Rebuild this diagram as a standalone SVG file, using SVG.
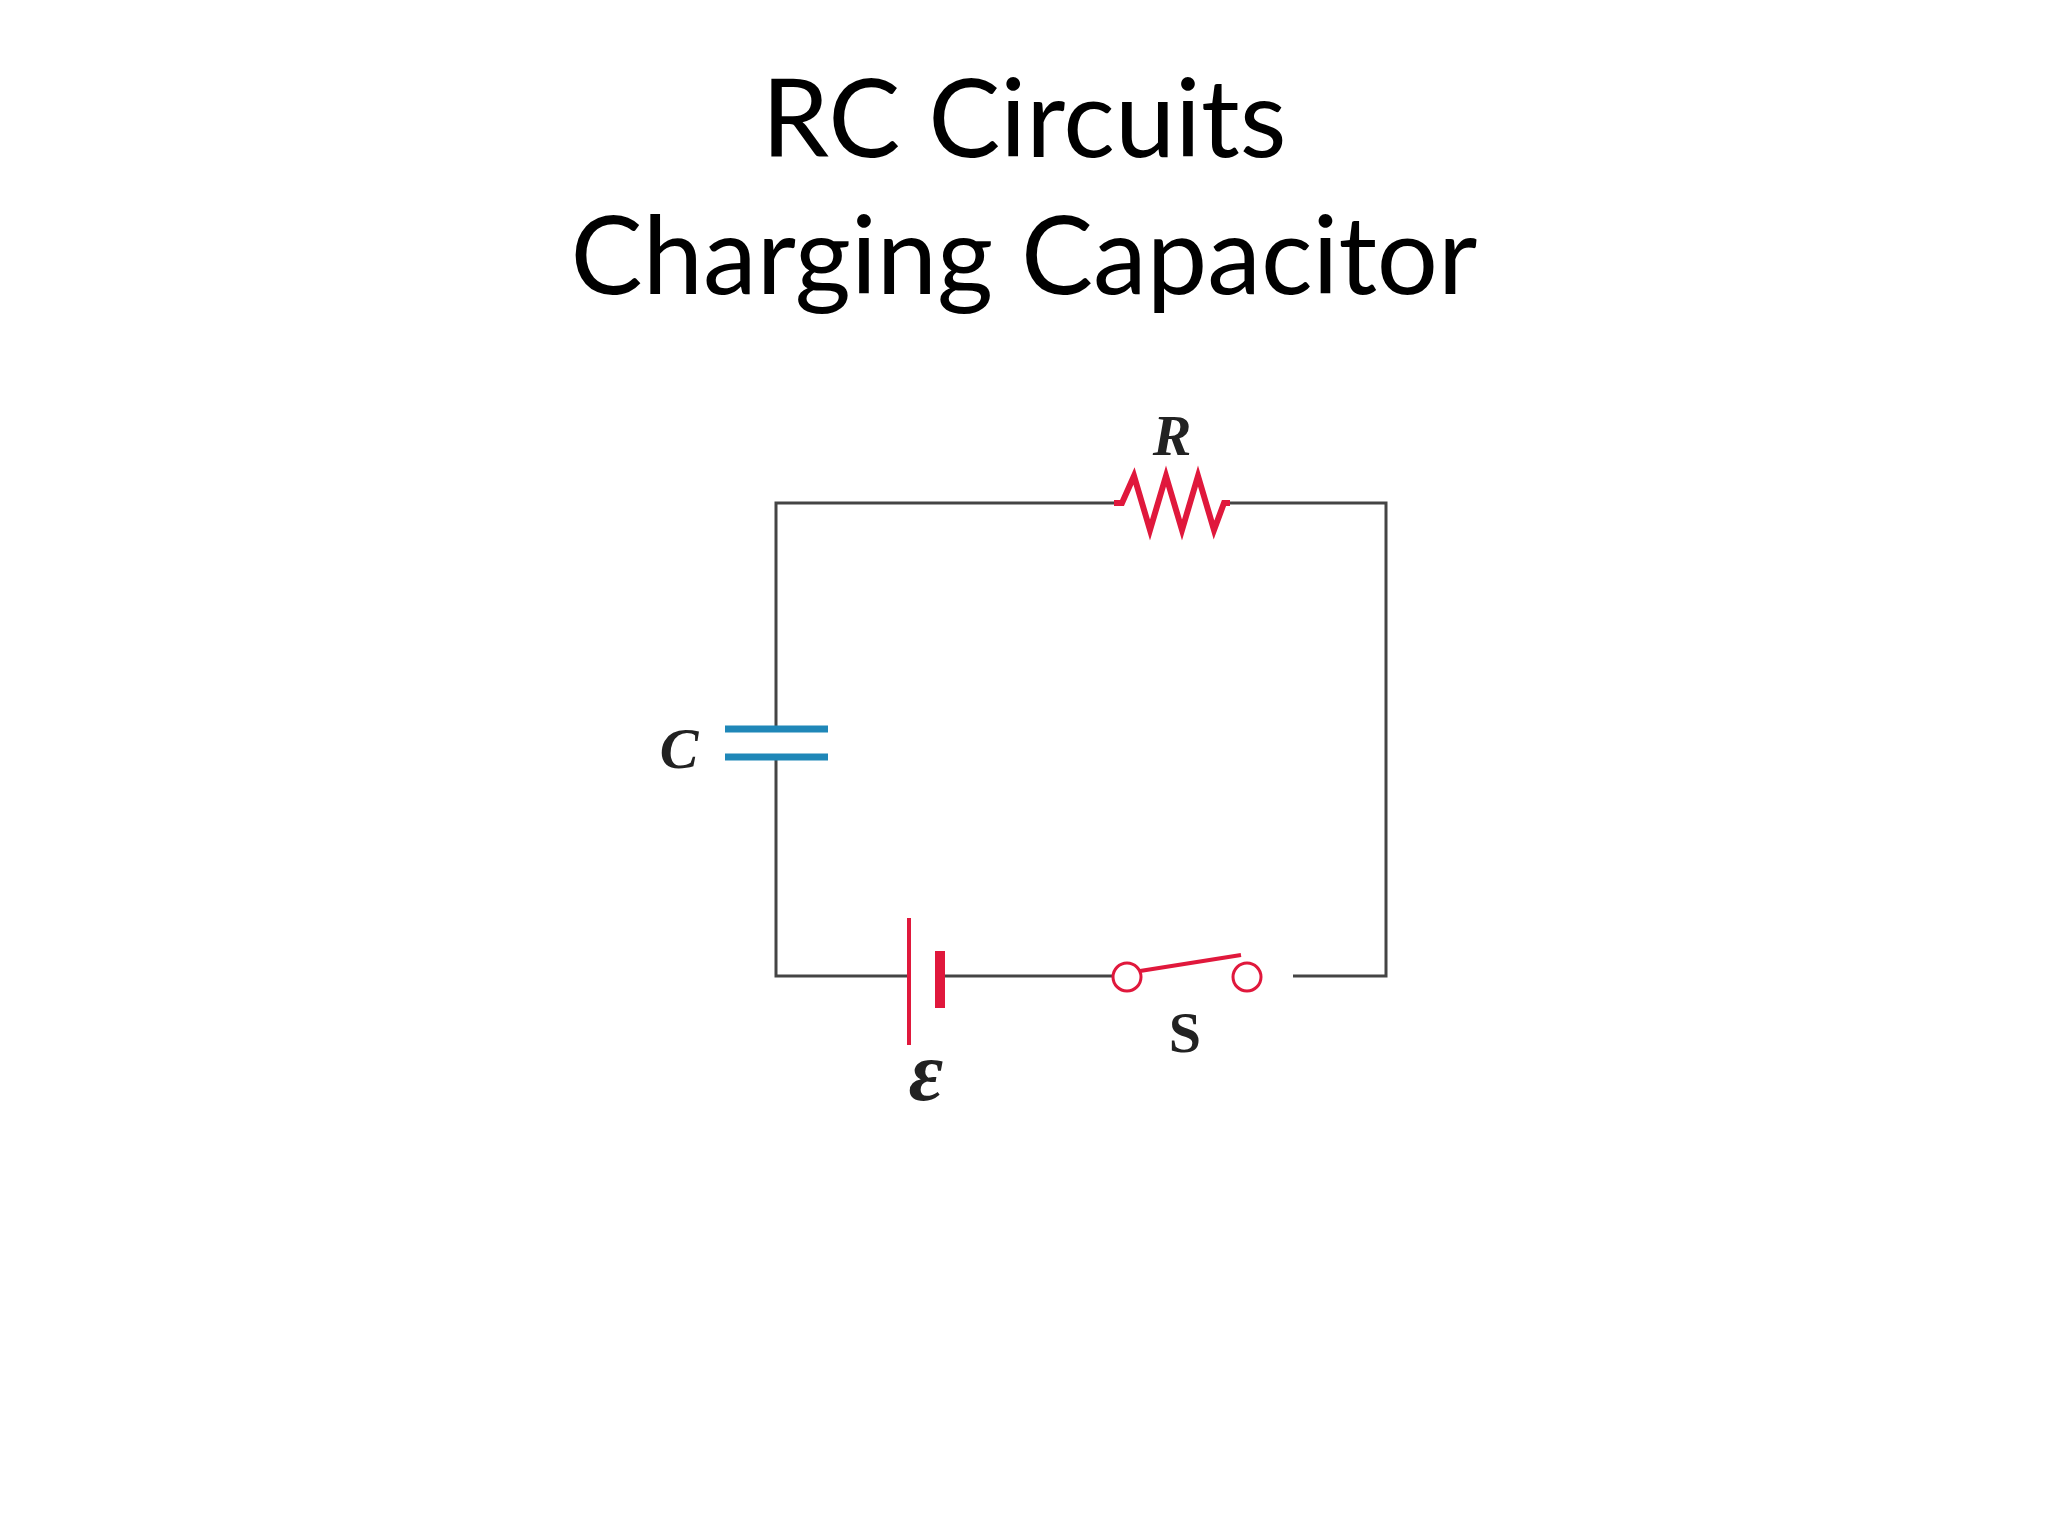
<svg xmlns="http://www.w3.org/2000/svg" width="2048" height="1536" viewBox="0 0 2048 1536">
<style>
.t{font-family:Lato,"Open Sans",sans-serif;font-size:108px;fill:#000;text-anchor:middle}
.w{stroke:#444;stroke-width:3;fill:none}
.r{stroke:#e0183c;fill:none}
.l{font-family:"Liberation Serif",serif;font-weight:bold;font-size:58px;fill:#222;text-anchor:middle}
</style>
<rect width="2048" height="1536" fill="#fff"/>
<text class="t" x="1024" y="157">RC Circuits</text>
<text class="t" x="1024" y="294">Charging Capacitor</text>
<g id="wires">
<polyline class="w" points="1114,503 776,503 776,729"/>
<polyline class="w" points="1230,503 1386,503 1386,976 1293,976"/>
<polyline class="w" points="776,757 776,976 909,976"/>
<line class="w" x1="940" y1="976" x2="1113" y2="976"/>
</g>
<g id="resistor">
<polyline class="r" stroke-width="6" stroke-linejoin="miter" points="1114,503 1122,503 1134,476 1150,530 1166,476 1182,530 1198,476 1214,530 1224,503 1230,503"/>
<text class="l" x="1172" y="455" font-style="italic">R</text>
</g>
<g id="capacitor">
<line x1="725" y1="729" x2="828" y2="729" stroke="#1f87b8" stroke-width="7"/>
<line x1="725" y1="757" x2="828" y2="757" stroke="#1f87b8" stroke-width="7"/>
<text class="l" x="679" y="768" font-style="italic" font-weight="normal">C</text>
</g>
<g id="battery">
<line class="r" x1="909" y1="918" x2="909" y2="1045" stroke-width="4"/>
<line class="r" x1="940" y1="951" x2="940" y2="1008" stroke-width="10"/>
<text class="l" x="926" y="1100" style="font-size:84px;font-style:italic">ε</text>
</g>
<g id="switch">
<circle class="r" cx="1127" cy="977" r="14" stroke-width="3" fill="#fff"/>
<circle class="r" cx="1247" cy="977" r="14" stroke-width="3" fill="#fff"/>
<line class="r" x1="1140" y1="971" x2="1241" y2="955" stroke-width="4"/>
<text class="l" x="1185" y="1052">S</text>
</g>
</svg>
